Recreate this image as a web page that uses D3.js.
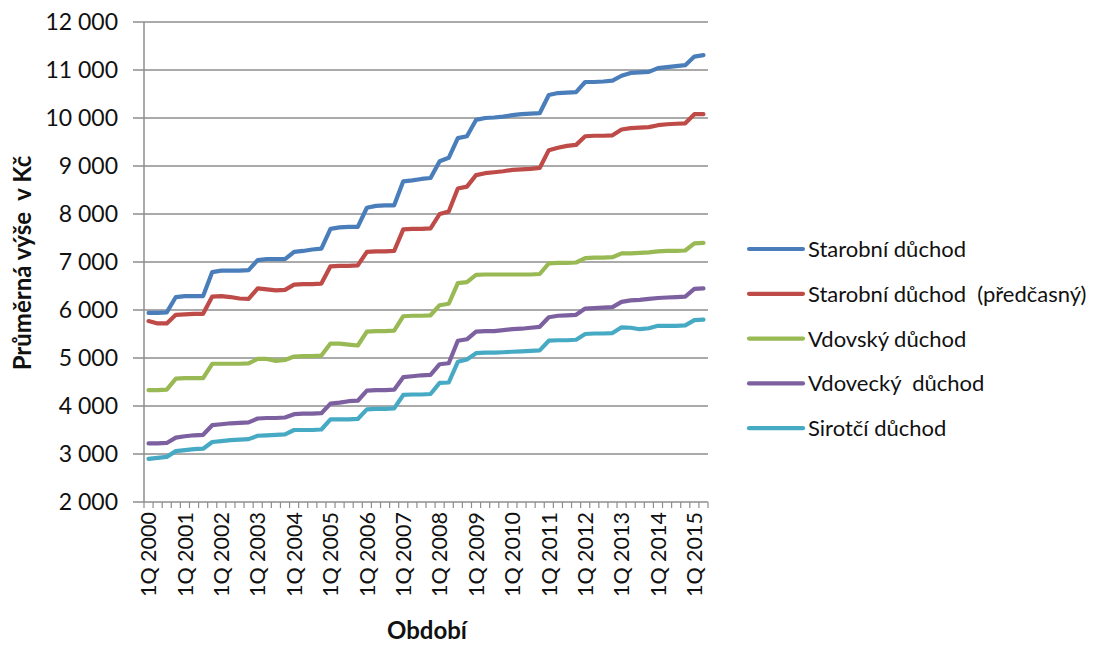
<!DOCTYPE html>
<html>
<head>
<meta charset="utf-8">
<script src="https://cdn.jsdelivr.net/npm/d3@7"></script>
<style>
  body { margin: 0; background: #fff; }
  svg { display: block; }
  text { font-family: Lato, "Open Sans", sans-serif; fill: #111; white-space: pre; }
</style>
</head>
<body>
<svg id="chart" width="1094" height="646"></svg>
<script>
// Quarterly periods 1Q 2000 – 2Q 2015
const years = d3.range(2000, 2016);
const quarters = years.flatMap(y => [1, 2, 3, 4].map(q => `${q}Q ${y}`)).slice(0, 62);
const tickLabels = ["1Q 2000", "1Q 2001", "1Q 2002", "1Q 2003", "1Q 2004", "1Q 2005", "1Q 2006", "1Q 2007",
  "1Q 2008", "1Q 2009", "1Q 2010", "1Q 2011", "1Q 2012", "1Q 2013", "1Q 2014", "1Q 2015"];
const yTicks = [2000, 3000, 4000, 5000, 6000, 7000, 8000, 9000, 10000, 11000, 12000];

// Average pension amounts (Kč), one value per quarter
const starobni = [
  5940, 5940, 5950, 6270,  6290, 6290, 6290, 6790,  6820, 6820, 6820, 6830,  7040, 7060, 7060, 7060,
  7210, 7230, 7260, 7280,  7690, 7720, 7730, 7730,  8130, 8170, 8180, 8180,  8680, 8700, 8730, 8750,
  9100, 9170, 9580, 9620,  9960, 10000, 10010, 10030,  10060, 10080, 10090, 10100,  10480, 10520, 10530, 10540,
  10750, 10750, 10760, 10780,  10880, 10940, 10950, 10960,  11040, 11060, 11080, 11100,  11280, 11310];
const predcasny = [
  5770, 5720, 5720, 5900,  5910, 5920, 5920, 6280,  6290, 6270, 6240, 6230,  6450, 6430, 6410, 6420,
  6530, 6540, 6540, 6550,  6910, 6920, 6920, 6930,  7210, 7220, 7220, 7230,  7680, 7690, 7690, 7700,
  8000, 8050, 8530, 8570,  8810, 8850, 8870, 8890,  8920, 8930, 8940, 8960,  9330, 9380, 9420, 9440,
  9620, 9630, 9630, 9640,  9760, 9790, 9800, 9810,  9850, 9870, 9880, 9890,  10080, 10080];
const vdovsky = [
  4330, 4330, 4340, 4570,  4580, 4580, 4580, 4880,  4880, 4880, 4880, 4890,  4980, 4980, 4940, 4960,
  5030, 5040, 5040, 5050,  5300, 5300, 5280, 5260,  5550, 5560, 5560, 5570,  5870, 5880, 5880, 5890,
  6100, 6130, 6560, 6580,  6730, 6740, 6740, 6740,  6740, 6740, 6740, 6750,  6970, 6980, 6980, 6990,
  7080, 7090, 7090, 7100,  7180, 7180, 7190, 7200,  7220, 7230, 7230, 7240,  7390, 7400];
const vdovecky = [
  3220, 3220, 3230, 3340,  3370, 3390, 3400, 3600,  3620, 3640, 3650, 3660,  3740, 3750, 3750, 3760,
  3830, 3840, 3840, 3850,  4050, 4070, 4100, 4110,  4320, 4330, 4330, 4340,  4600, 4620, 4640, 4650,
  4870, 4890, 5360, 5390,  5550, 5560, 5560, 5580,  5600, 5610, 5630, 5650,  5850, 5880, 5890, 5900,
  6030, 6040, 6050, 6060,  6170, 6200, 6210, 6230,  6250, 6260, 6270, 6280,  6440, 6450];
const sirotci = [
  2900, 2920, 2940, 3060,  3080, 3100, 3110, 3250,  3270, 3290, 3300, 3310,  3380, 3390, 3400, 3410,
  3500, 3500, 3500, 3510,  3720, 3720, 3720, 3730,  3930, 3940, 3940, 3950,  4230, 4240, 4240, 4250,
  4480, 4490, 4920, 4970,  5100, 5110, 5110, 5120,  5130, 5140, 5150, 5160,  5360, 5370, 5370, 5380,
  5500, 5510, 5510, 5520,  5640, 5630, 5600, 5620,  5670, 5670, 5670, 5680,  5790, 5800];

const seriesNames = ["Starobní důchod", "Starobní důchod  (předčasný)", "Vdovský důchod", "Vdovecký  důchod", "Sirotčí důchod"];
const seriesValues = [starobni, predcasny, vdovsky, vdovecky, sirotci];
const seriesColors = ["#4a7ebb", "#be4b48", "#98b954", "#7d60a0", "#46aac5"];

const svg = d3.select("#chart");
const plot = { left: 144, right: 708, top: 22, bottom: 502 };

const x = d3.scaleBand().domain(quarters).range([plot.left, plot.right]);
const xc = q => x(q) + x.bandwidth() / 2;
const y = d3.scaleLinear().domain([2000, 12000]).range([plot.bottom, plot.top]);

const fmt = d3.formatLocale({ decimal: ",", thousands: "\u00a0", grouping: [3], currency: ["", " Kč"] }).format(",d");

// Horizontal gridlines
svg.append("g").selectAll("line").data(yTicks).join("line")
  .attr("x1", plot.left - 11).attr("x2", plot.right)
  .attr("y1", d => y(d)).attr("y2", d => y(d))
  .attr("stroke", "#8e8e8e").attr("stroke-width", 1.5);

// Value axis labels
svg.append("g").selectAll("text").data(yTicks).join("text")
  .attr("x", 118).attr("y", d => y(d)).attr("dy", "0.36em")
  .attr("text-anchor", "end").style("font-size", "23px")
  .text(d => fmt(d));

// Vertical axis line
svg.append("line")
  .attr("x1", plot.left).attr("x2", plot.left)
  .attr("y1", plot.top).attr("y2", plot.bottom)
  .attr("stroke", "#8e8e8e").attr("stroke-width", 1.5);

// Category tick marks between periods
const boundaries = quarters.map(q => x(q)).concat([plot.right]);
svg.append("g").selectAll("line").data(boundaries).join("line")
  .attr("x1", d => d).attr("x2", d => d)
  .attr("y1", plot.bottom).attr("y2", plot.bottom + 6)
  .attr("stroke", "#8e8e8e").attr("stroke-width", 1.2);

// Category labels (every first quarter)
svg.append("g").selectAll("text").data(tickLabels).join("text")
  .attr("transform", d => `translate(${xc(d)},${plot.bottom + 10}) rotate(-90)`)
  .attr("dy", "0.36em").attr("text-anchor", "end")
  .style("font-size", "21.5px")
  .text(d => d);

// Axis titles
svg.append("text")
  .attr("transform", `translate(22,${(plot.top + plot.bottom) / 2 + 1}) rotate(-90)`)
  .attr("dy", "0.36em").attr("text-anchor", "middle")
  .style("font-size", "24px").style("font-weight", "bold")
  .text("Průměrná výše  v Kč");
svg.append("text")
  .attr("x", (plot.left + plot.right) / 2 + 1).attr("y", 639)
  .attr("text-anchor", "middle")
  .style("font-size", "24px").style("font-weight", "bold")
  .text("Období");

// Series lines
const line = d3.line().x((d, i) => xc(quarters[i])).y(d => y(d));
svg.append("g").selectAll("path").data(seriesValues).join("path")
  .attr("d", d => line(d))
  .attr("fill", "none")
  .attr("stroke", (d, i) => seriesColors[i])
  .attr("stroke-width", 4.2)
  .attr("stroke-linejoin", "round")
  .attr("stroke-linecap", "round");

// Legend
const legend = svg.append("g").selectAll("g").data(seriesNames).join("g")
  .attr("transform", (d, i) => `translate(749,${249 + i * 44.8})`);
legend.append("line")
  .attr("x1", 0).attr("x2", 54).attr("y1", 0).attr("y2", 0)
  .attr("stroke", (d, i) => seriesColors[i]).attr("stroke-width", 4.2)
  .attr("stroke-linecap", "round");
legend.append("text")
  .attr("x", 59).attr("dy", "0.36em")
  .style("font-size", "22px")
  .text(d => d);
</script>
</body>
</html>
